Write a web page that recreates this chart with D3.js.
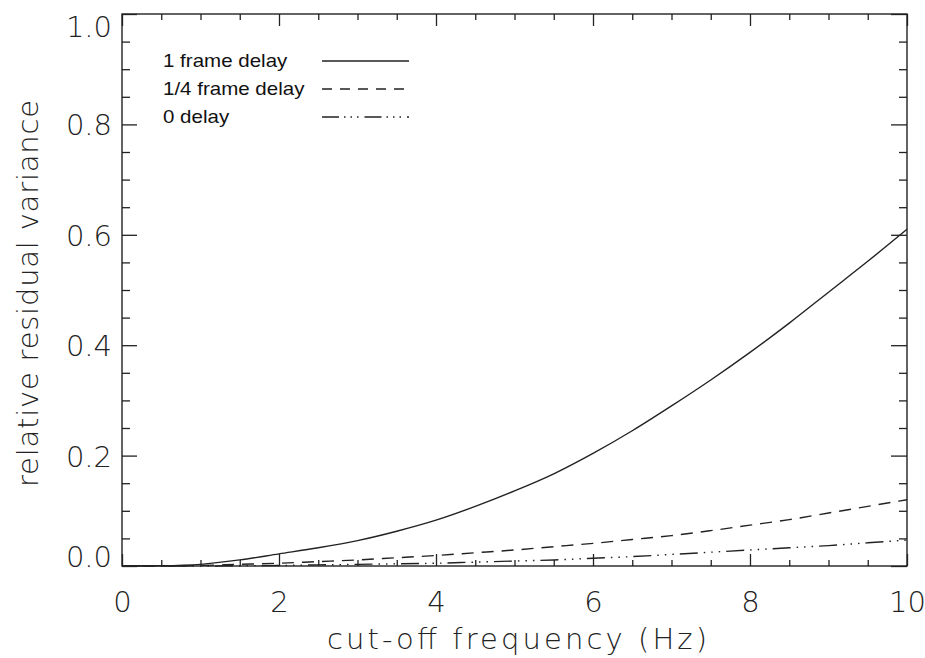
<!DOCTYPE html>
<html>
<head>
<meta charset="utf-8">
<script src="https://cdn.jsdelivr.net/npm/d3@7"></script>
<style>
  body { margin: 0; background: #fff; }
  svg { display: block; }
  .tick-label { font-family: "DejaVu Sans", Roboto, sans-serif; font-weight: 200; fill: #222; }
  .legend-text { font-family: "Liberation Sans", Arial, sans-serif; fill: #111; }
</style>
</head>
<body>
<div id="chart"></div>
<script>
// cut-off frequency samples (Hz)
var freq = [0, 0.5, 1, 1.5, 2, 2.5, 3, 3.5, 4, 4.5, 5, 5.5, 6, 6.5, 7, 7.5, 8, 8.5, 9, 9.5, 10];
// relative residual variance
var oneFrame = [0, 0.0005, 0.003, 0.011, 0.022, 0.033, 0.046, 0.063, 0.083, 0.108, 0.136, 0.167, 0.204, 0.245, 0.29, 0.337, 0.387, 0.44, 0.496, 0.552, 0.61];
var quarterFrame = [0, 0, 0.001, 0.003, 0.005, 0.008, 0.011, 0.015, 0.019, 0.024, 0.029, 0.035, 0.041, 0.048, 0.055, 0.064, 0.074, 0.084, 0.096, 0.108, 0.12];
var zeroDelay = [0, 0, 0, 0.0005, 0.001, 0.002, 0.003, 0.004, 0.005, 0.007, 0.009, 0.011, 0.014, 0.017, 0.021, 0.025, 0.029, 0.033, 0.037, 0.042, 0.047];

var seriesNames = ["1 frame delay", "1/4 frame delay", "0 delay"];
var xMajor = [0, 2, 4, 6, 8, 10];
var xMinor = [0.5, 1, 1.5, 2.5, 3, 3.5, 4.5, 5, 5.5, 6.5, 7, 7.5, 8.5, 9, 9.5];
var yMajor = [0, 0.2, 0.4, 0.6, 0.8, 1.0];
var yMinor = [0.05, 0.1, 0.15, 0.25, 0.3, 0.35, 0.45, 0.5, 0.55, 0.65, 0.7, 0.75, 0.85, 0.9, 0.95];

var width = 925, height = 658;
var margin = {top: 14, right: 18, bottom: 92, left: 122};

var svg = d3.select("#chart").append("svg")
    .attr("width", width)
    .attr("height", height);

var x = d3.scaleLinear().domain([0, 10]).range([margin.left, width - margin.right]);
var y = d3.scaleLinear().domain([0, 1]).range([height - margin.bottom, margin.top]);

var ink = "#222";

//frame with inward ticks on all four sides
function drawAxis(axis, transform, labels) {
    var g = svg.append("g").attr("transform", transform).call(axis);
    g.select(".domain").remove();
    g.selectAll(".tick line").attr("stroke", ink).attr("stroke-width", 1.3);
    if (!labels) g.selectAll(".tick text").remove();
    return g;
}

var bottomY = y(0), topY = y(1), leftX = x(0), rightX = x(10);

drawAxis(d3.axisBottom(x).tickValues(xMinor).tickSize(-6), "translate(0," + bottomY + ")", false);
var xg = drawAxis(d3.axisBottom(x).tickValues(xMajor).tickSize(-12).tickFormat(d3.format("d")), "translate(0," + bottomY + ")", true);
xg.selectAll(".tick text").attr("class", "tick-label").attr("font-size", 29).attr("dy", null).attr("y", 46);

drawAxis(d3.axisTop(x).tickValues(xMinor).tickSize(-6), "translate(0," + topY + ")", false);
drawAxis(d3.axisTop(x).tickValues(xMajor).tickSize(-12), "translate(0," + topY + ")", false);

drawAxis(d3.axisLeft(y).tickValues(yMinor).tickSize(-8), "translate(" + leftX + ",0)", false);
var yg = drawAxis(d3.axisLeft(y).tickValues(yMajor).tickSize(-15).tickFormat(d3.format(".1f")), "translate(" + leftX + ",0)", true);
// the end labels sit inside the frame, as in the original plot
yg.selectAll(".tick text").attr("class", "tick-label").attr("font-size", 29).attr("x", -10)
    .attr("dy", function(d){ return d === 1 ? "0.79em" : (d === 0 ? "0" : "0.36em"); });

drawAxis(d3.axisRight(y).tickValues(yMinor).tickSize(-8), "translate(" + rightX + ",0)", false);
drawAxis(d3.axisRight(y).tickValues(yMajor).tickSize(-16), "translate(" + rightX + ",0)", false);

svg.append("rect")
    .attr("x", leftX).attr("y", topY)
    .attr("width", rightX - leftX).attr("height", bottomY - topY)
    .attr("fill", "none").attr("stroke", ink).attr("stroke-width", 1.4);

// axis titles
svg.append("text")
    .attr("class", "tick-label")
    .attr("x", 327)
    .attr("y", 649)
    .attr("font-size", 29)
    .attr("textLength", 380)
    .attr("lengthAdjust", "spacing")
    .text("cut-off frequency (Hz)");

svg.append("text")
    .attr("class", "tick-label")
    .attr("transform", "translate(38,487) rotate(-90)")
    .attr("font-size", 29)
    .attr("textLength", 387)
    .attr("lengthAdjust", "spacing")
    .text("relative residual variance");

// curves
var dashes = [null, "12,8", "18,6,1.5,6,1.5,6,1.5,6"];
var legendDashes = [null, "10,8", "17,5,1.5,5,1.5,5,1.5,6"];
var allSeries = [oneFrame, quarterFrame, zeroDelay];

var line = d3.line()
    .x(function(d, i){ return x(freq[i]); })
    .y(function(d){ return y(d); })
    .curve(d3.curveMonotoneX);

allSeries.forEach(function(s, i){
    svg.append("path")
        .datum(s)
        .attr("d", line)
        .attr("fill", "none")
        .attr("stroke", ink)
        .attr("stroke-width", 1.4)
        .attr("stroke-dasharray", dashes[i]);
});

// legend
var legendY = [61, 89, 117];
seriesNames.forEach(function(name, i){
    svg.append("text")
        .attr("class", "legend-text")
        .attr("transform", "translate(163," + (legendY[i] + 6) + ") scale(1.14,1)")
        .attr("font-size", 18)
        .text(name);
    svg.append("line")
        .attr("x1", 322).attr("x2", 409)
        .attr("y1", legendY[i]).attr("y2", legendY[i])
        .attr("stroke", ink)
        .attr("stroke-width", 1.6)
        .attr("stroke-dasharray", legendDashes[i]);
});
</script>
</body>
</html>
